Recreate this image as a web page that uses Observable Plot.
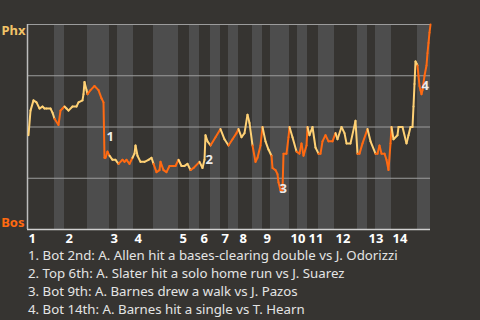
<!DOCTYPE html>
<html>
<head>
<meta charset="utf-8">
<script src="https://cdn.jsdelivr.net/npm/d3@7"></script>
<script src="https://cdn.jsdelivr.net/npm/@observablehq/plot@0.6"></script>
<style>
  body { margin: 0; background: #363431; width: 480px; height: 320px; overflow: hidden; }
  #chart svg { display: block; }
  #caption { font-family: "Noto Sans", sans-serif; font-size: 13.25px; color: #e4e4e4; padding-left: 28px; line-height: 18px; margin-top: 0; }
  #caption div { white-space: nowrap; }
</style>
</head>
<body>
<div id="chart"></div>
<div id="caption"></div>
<script>
// Innings (top-half start / bottom-half start, in play units)
const innings = [1, 2, 3, 4, 5, 6, 7, 8, 9, 10, 11, 12, 13, 14];
const topStart = [0, 37, 82, 106, 151, 172, 193, 211, 235, 262, 280, 307, 340, 364];
const botStart = [27, 60, 90, 126, 162, 183, 201, 225, 243, 270, 291, 330, 348, 390];
const gameEnd = 403;

// Win probability (Phx %) at each play vertex
const plays = [1, 3, 6, 9, 12, 15, 17, 19, 23, 25, 27, 31, 33, 35, 37, 39, 41, 45, 49, 51, 55, 56, 57, 59, 60, 63, 67, 71, 74, 76,
  77, 78, 80, 82, 85, 88, 91, 95, 97, 99, 102, 105, 107, 108, 110, 113, 117, 121, 124, 126, 129, 132, 133, 136, 139, 142, 148,
  151, 154, 157, 160, 163, 166, 172, 175, 177, 178, 180, 183, 188, 193, 197, 201, 205, 209, 211, 214, 217, 220, 222, 225, 228,
  230, 233, 235, 238, 241, 244, 245, 248, 250, 251, 253, 255, 256, 259, 261, 262, 265, 269, 272, 274, 276, 279, 280, 282, 285,
  288, 291, 293, 295, 298, 301, 305, 308, 310, 314, 317, 319, 323, 328, 330, 332, 335, 340, 343, 348, 350, 352, 354, 357, 359,
  361, 363, 364, 366, 370, 371, 375, 379, 381, 383, 385, 386, 387, 388, 389, 390, 391, 392, 393, 394, 395, 397, 399, 400, 401,
  402, 403];
const phxWp = [46, 58, 63, 62, 59, 60, 59, 59, 59, 57, 54, 51, 58, 59, 60, 59, 58, 60, 60, 62, 63, 66, 72, 68, 66, 68, 70, 68, 64, 62,
  35, 35, 38, 36, 34, 34, 32, 34, 33, 34, 32, 35, 37, 41, 36, 33, 33, 34, 35, 32, 28, 29, 33, 29, 28, 31, 31,
  34, 31, 31, 32, 29, 30, 33, 30, 34, 46, 43, 41, 45, 49, 44, 41, 44, 47, 49, 45, 47, 56, 52, 41, 33,
  35, 41, 50, 43, 39, 36, 30, 29, 27, 23, 19, 19, 37, 37, 45, 50, 45, 38, 37, 42, 36, 41, 50, 46, 50,
  40, 37, 37, 43, 46, 43, 43, 47, 44, 50, 47, 42, 42, 53, 37, 37, 42, 49, 43, 37, 37, 41, 37, 37, 34,
  29, 42, 50, 44, 46, 50, 50, 42, 46, 50, 50, 60, 71, 82, 81, 80, 75, 70, 68, 66, 68, 75, 80, 86, 91,
  96, 100];

// Key events
const eventNums = [1, 2, 3, 4];
const eventPlay = [79, 178, 252, 394];
const eventWp = [45, 34, 20, 70];
const eventText = [
  "Bot 2nd: A. Allen hit a bases-clearing double vs J. Odorizzi",
  "Top 6th: A. Slater hit a solo home run vs J. Suarez",
  "Bot 9th: A. Barnes drew a walk vs J. Pazos",
  "Bot 14th: A. Barnes hit a single vs T. Hearn"
];
const teams = ["Phx", "Bos"];

const colTop = "#ffd175";
const colBot = "#ff6a12";
const colPhx = "#f3c468";
const colBos = "#ff6a10";

// Build tables
const bands = botStart.map((s, i) => ({ x1: s, x2: i + 1 < topStart.length ? topStart[i + 1] : gameEnd }));
function isBottom(x) {
  for (let i = 0; i < botStart.length; i++) {
    const end = i + 1 < topStart.length ? topStart[i + 1] : gameEnd;
    if (x >= botStart[i] && x < end) return true;
  }
  return false;
}
const segs = [];
for (let i = 0; i + 1 < plays.length; i++) {
  const mid = (plays[i] + plays[i + 1]) / 2;
  segs.push({ x1: plays[i], y1: phxWp[i], x2: plays[i + 1], y2: phxWp[i + 1], bottom: isBottom(mid) });
}
const inningLabels = innings.map((n, i) => ({ n, x: topStart[i] }));
const events = eventNums.map((n, i) => ({ n, x: eventPlay[i], y: eventWp[i] }));

const chart = Plot.plot({
  width: 480,
  height: 246,
  marginLeft: 27,
  marginRight: 50,
  marginTop: 24,
  marginBottom: 17,
  style: { background: "transparent", overflow: "visible", fontFamily: "Noto Sans, sans-serif" },
  x: { domain: [0, gameEnd], axis: null },
  y: { domain: [0, 100], axis: null },
  marks: [
    Plot.rect(bands, { x1: "x1", x2: "x2", y1: 0, y2: 100, fill: "#4d4d4d" }),
    Plot.ruleY([25, 50, 75, 100], { stroke: "#9c9c9c", strokeWidth: 1 }),
    Plot.ruleY([0], { stroke: "#cfcfcf", strokeWidth: 1.5 }),
    Plot.ruleX([0], { stroke: "#bdbdbd", strokeWidth: 1.5 }),
    Plot.link(segs, {
      x1: "x1", y1: "y1", x2: "x2", y2: "y2",
      stroke: d => d.bottom ? colBot : colTop,
      strokeWidth: 2, strokeLinecap: "round", strokeLinejoin: "round"
    }),
    Plot.text(events, {
      x: "x", y: "y", text: d => String(d.n), textAnchor: "start",
      fill: "#ececec", fontSize: 13, fontWeight: "bold"
    }),
    Plot.text(inningLabels, {
      x: "x", text: d => String(d.n), frameAnchor: "bottom", lineAnchor: "middle", textAnchor: "start",
      dy: 9, dx: 1, fill: "#ffffff", fontSize: 13, fontWeight: "bold"
    }),
    Plot.text([teams[0]], {
      frameAnchor: "top-left", text: d => d, textAnchor: "end", dx: -2, dy: 1,
      fill: colPhx, fontSize: 13, fontWeight: "bold"
    }),
    Plot.text([teams[1]], {
      frameAnchor: "bottom-left", text: d => d, textAnchor: "end", dx: -3, dy: -3,
      fill: colBos, fontSize: 13, fontWeight: "bold"
    })
  ]
});
document.getElementById("chart").appendChild(chart);

const cap = document.getElementById("caption");
eventText.forEach((t, i) => {
  const div = document.createElement("div");
  div.textContent = `${eventNums[i]}. ${t}`;
  cap.appendChild(div);
});
</script>
</body>
</html>
